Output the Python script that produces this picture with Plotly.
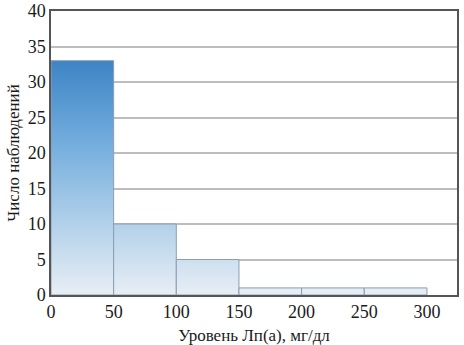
import plotly.graph_objects as go

bin_edges = [0, 50, 100, 150, 200, 250, 300]
counts = [33, 10, 5, 1, 1, 1]
x_ticks = [0, 50, 100, 150, 200, 250, 300]
y_ticks = [0, 5, 10, 15, 20, 25, 30, 35, 40]
x_title = "Уровень Лп(а), мг/дл"
y_title = "Число наблюдений"

fig = go.Figure()
for i, c in enumerate(counts):
    l, r = bin_edges[i], bin_edges[i + 1]
    fig.add_trace(go.Scatter(
        x=[l, l, r, r, l], y=[0, c, c, 0, 0],
        mode="lines", fill="toself",
        line=dict(color="#8c9db3", width=1),
        fillgradient=dict(type="vertical", start=0, stop=33,
                          colorscale=[[0, "#e8eef5"], [0.3, "#b2d1ea"],
                                      [0.65, "#73addd"], [1, "#3d84c5"]]),
        hoverinfo="skip", showlegend=False,
    ))

font_family = "Liberation Serif, Tinos, Times New Roman, DejaVu Serif, serif"
tfont = dict(family=font_family, size=18, color="#1a1a1a")
ttfont = dict(family=font_family, size=17, color="#1a1a1a")
fig.update_layout(
    width=464, height=345,
    margin=dict(l=51, r=7, t=11, b=50, autoexpand=False),
    plot_bgcolor="white", paper_bgcolor="white",
    font=tfont,
    xaxis=dict(range=[0, 324], tickvals=x_ticks, showgrid=False,
               showline=True, mirror=True, linecolor="#555", linewidth=1.5,
               zeroline=False, ticks="", automargin=False,
               ticklabeloverflow="allow", tickfont=tfont,
               title=dict(text=x_title, standoff=8, font=ttfont)),
    yaxis=dict(range=[0, 40], tickvals=y_ticks, showgrid=True,
               gridcolor="#bdbdbd", gridwidth=1.5,
               showline=True, mirror=True, linecolor="#555", linewidth=1.5,
               zeroline=False, ticks="", automargin=False,
               ticklabeloverflow="allow", tickfont=tfont,
               title=dict(text=y_title, standoff=4, font=ttfont)),
)
fig.write_html("out.html", config={"displayModeBar": False},
               post_script="document.body.style.margin='0';")
